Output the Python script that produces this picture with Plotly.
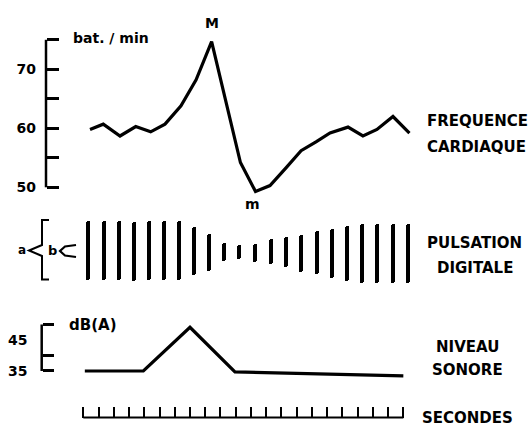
import plotly.graph_objects as go

W, H = 529, 427

# ---------------- data ----------------
# heart rate (beats per minute), one value per beat, times in seconds
heart_t = [0.44, 1.31, 2.41, 3.44, 4.42, 5.36, 6.41, 7.40, 8.42, 9.30, 10.31,
           11.30, 12.25, 13.30, 14.29, 15.27, 16.19, 17.37, 18.35, 19.27, 20.32, 21.40]
heart_rate = [59.8, 60.7, 58.7, 60.3, 59.4, 60.7, 63.8, 68.2, 74.7, 65.1, 54.2,
              49.3, 50.3, 53.3, 56.2, 57.7, 59.2, 60.2, 58.7, 59.8, 62.0, 59.2]

# digital pulse: beat times (s), amplitude and centre offset (relative units)
beat_t = [0.33, 1.36, 2.34, 3.33, 4.31, 5.29, 6.30, 7.26, 8.25, 9.25, 10.24,
          11.27, 12.30, 13.30, 14.29, 15.31, 16.30, 17.28, 18.27, 19.29, 20.30, 21.30]
pulse_amp = [59, 59, 59, 59, 59, 59, 59, 48, 37, 18, 14,
             18, 25, 30, 37, 43, 49, 55, 59, 59, 59, 59]
pulse_mid = [1.5, 1.5, 1.5, 1.0, 1.5, 1.5, 1.5, 1.0, 0.0, 0.3, 0.0,
             -0.5, 0.3, -0.3, -1.0, -0.7, -1.7, -1.3, -1.7, -1.7, -1.7, -1.7]

# sound level dB(A)
sound_t = [0.1, 3.94, 7.0, 9.95, 21.0]
sound_db = [35.0, 35.0, 49.1, 34.7, 33.4]

# axis ticks
hr_ticks = [50, 55, 60, 65, 70, 75]
hr_ticktext = ["<b>50</b>", "", "<b>60</b>", "", "<b>70</b>", ""]
db_ticks = [35, 40, 50]
db_labels = [45, 35]
sec_ticks = [0, 1, 2, 3, 4, 5, 6, 7, 8, 9, 10, 11, 12, 13, 14, 15, 16, 17, 18, 19, 20, 21]

# ---------------- layout helpers ----------------
T0_PX, PX_PER_S = 83.3, 15.24
FONT = "DejaVu Sans"


def px(xp):
    return xp / W


def py(yp):
    return 1 - yp / H


def path(points):
    s = ""
    for i, (a, b) in enumerate(points):
        s += ("M" if i == 0 else "L") + f"{px(a):.5f},{py(b):.5f} "
    return s.strip()


fig = go.Figure()

fig.add_trace(go.Scatter(x=heart_t, y=heart_rate, mode="lines",
                         line=dict(color="black", width=3.2),
                         xaxis="x", yaxis="y", showlegend=False, hoverinfo="skip"))

fig.add_trace(go.Bar(x=beat_t, y=pulse_amp,
                     base=[m - a / 2 for a, m in zip(pulse_amp, pulse_mid)],
                     width=0.27, marker=dict(color="black", line=dict(width=0), cornerradius=2),
                     xaxis="x", yaxis="y2", showlegend=False, hoverinfo="skip"))

fig.add_trace(go.Scatter(x=sound_t, y=sound_db, mode="lines",
                         line=dict(color="black", width=3.2),
                         xaxis="x", yaxis="y3", showlegend=False, hoverinfo="skip"))

ann = []


def text(t, x, y, size=15, bold=True, **kw):
    d = dict(text=f"<b>{t}</b>" if bold else t, x=px(x), y=py(y), xref="paper", yref="paper",
             showarrow=False, font=dict(family=FONT, size=size, color="black"),
             xanchor="center", yanchor="middle")
    d.update(kw)
    ann.append(d)


text("bat. / min", 111.5, 38.5, size=14)
text("M", 211.7, 23, size=14)
text("m", 252, 204, size=14)
text("FREQUENCE", 477, 121)
text("CARDIAQUE", 476, 146.5)
text("PULSATION", 474, 243)
text("DIGITALE", 475, 268)
text("NIVEAU", 467, 346.5)
text("SONORE", 467, 369.5)
text("SECONDES", 467, 417.5)
text("dB(A)", 93, 325, size=15)
text("a", 22, 250, size=12)
text("b", 52, 250, size=13)
for v in db_labels:
    ann.append(dict(text=f"<b>{v}</b>", x=px(17.2), y=v, xref="paper", yref="y3", showarrow=False,
                    font=dict(family=FONT, size=14, color="black"),
                    xanchor="center", yanchor="middle"))

shapes = [
    # heart-rate axis spine
    dict(type="line", xref="paper", yref="y", x0=px(46), x1=px(46), y0=50, y1=75,
         line=dict(color="black", width=2.5)),
    # sound axis spine
    dict(type="line", xref="paper", yref="y3", x0=px(41.7), x1=px(41.7), y0=35, y1=50,
         line=dict(color="black", width=2.5)),
    # seconds baseline
    dict(type="line", xref="x", yref="paper", x0=sec_ticks[0], x1=sec_ticks[-1],
         y0=py(417.5), y1=py(417.5), line=dict(color="black", width=2)),
    # brace "{"
    dict(type="path", xref="paper", yref="paper",
         path=path([(49, 220), (42, 220), (42, 245), (29, 250.5), (42, 256), (42, 279.5), (49, 279.5)]),
         line=dict(color="black", width=2)),
    # "<"
    dict(type="path", xref="paper", yref="paper",
         path=path([(76, 245), (65, 246.5), (60, 251), (65, 255.5), (76, 257)]),
         line=dict(color="black", width=2.2)),
]

fig.update_layout(
    width=W, height=H, margin=dict(l=0, r=0, t=0, b=0),
    paper_bgcolor="white", plot_bgcolor="white",
    showlegend=False, bargap=0,
    xaxis=dict(domain=[0, 1], range=[(0 - T0_PX) / PX_PER_S, (W - T0_PX) / PX_PER_S],
               anchor="free", position=py(417.5), showgrid=False, zeroline=False,
               showline=False, tickmode="array", tickvals=sec_ticks, ticks="inside",
               ticklen=11, tickwidth=2, tickcolor="black", showticklabels=False, fixedrange=True),
    yaxis=dict(domain=[py(200), py(15)], range=[47.85, 79.2], anchor="free", position=px(46),
               showgrid=False, zeroline=False, showline=False, tickmode="array",
               tickvals=hr_ticks, ticktext=hr_ticktext, ticks="inside", ticklen=12,
               tickwidth=2.5, tickcolor="black", ticklabelstandoff=10,
               tickfont=dict(family=FONT, size=14, color="black"), fixedrange=True),
    yaxis2=dict(domain=[py(292), py(212)], range=[-40, 40], anchor="free", position=0,
                visible=False, fixedrange=True),
    yaxis3=dict(domain=[py(385), py(315)], range=[30.48, 53.06], anchor="free", position=px(41.7),
                showgrid=False, zeroline=False, showline=False, tickmode="array",
                tickvals=db_ticks, ticks="inside", ticklen=11, tickwidth=2.5,
                tickcolor="black", showticklabels=False, fixedrange=True),
    annotations=ann, shapes=shapes,
)

fig.write_html("out.html", config={"displayModeBar": False})
